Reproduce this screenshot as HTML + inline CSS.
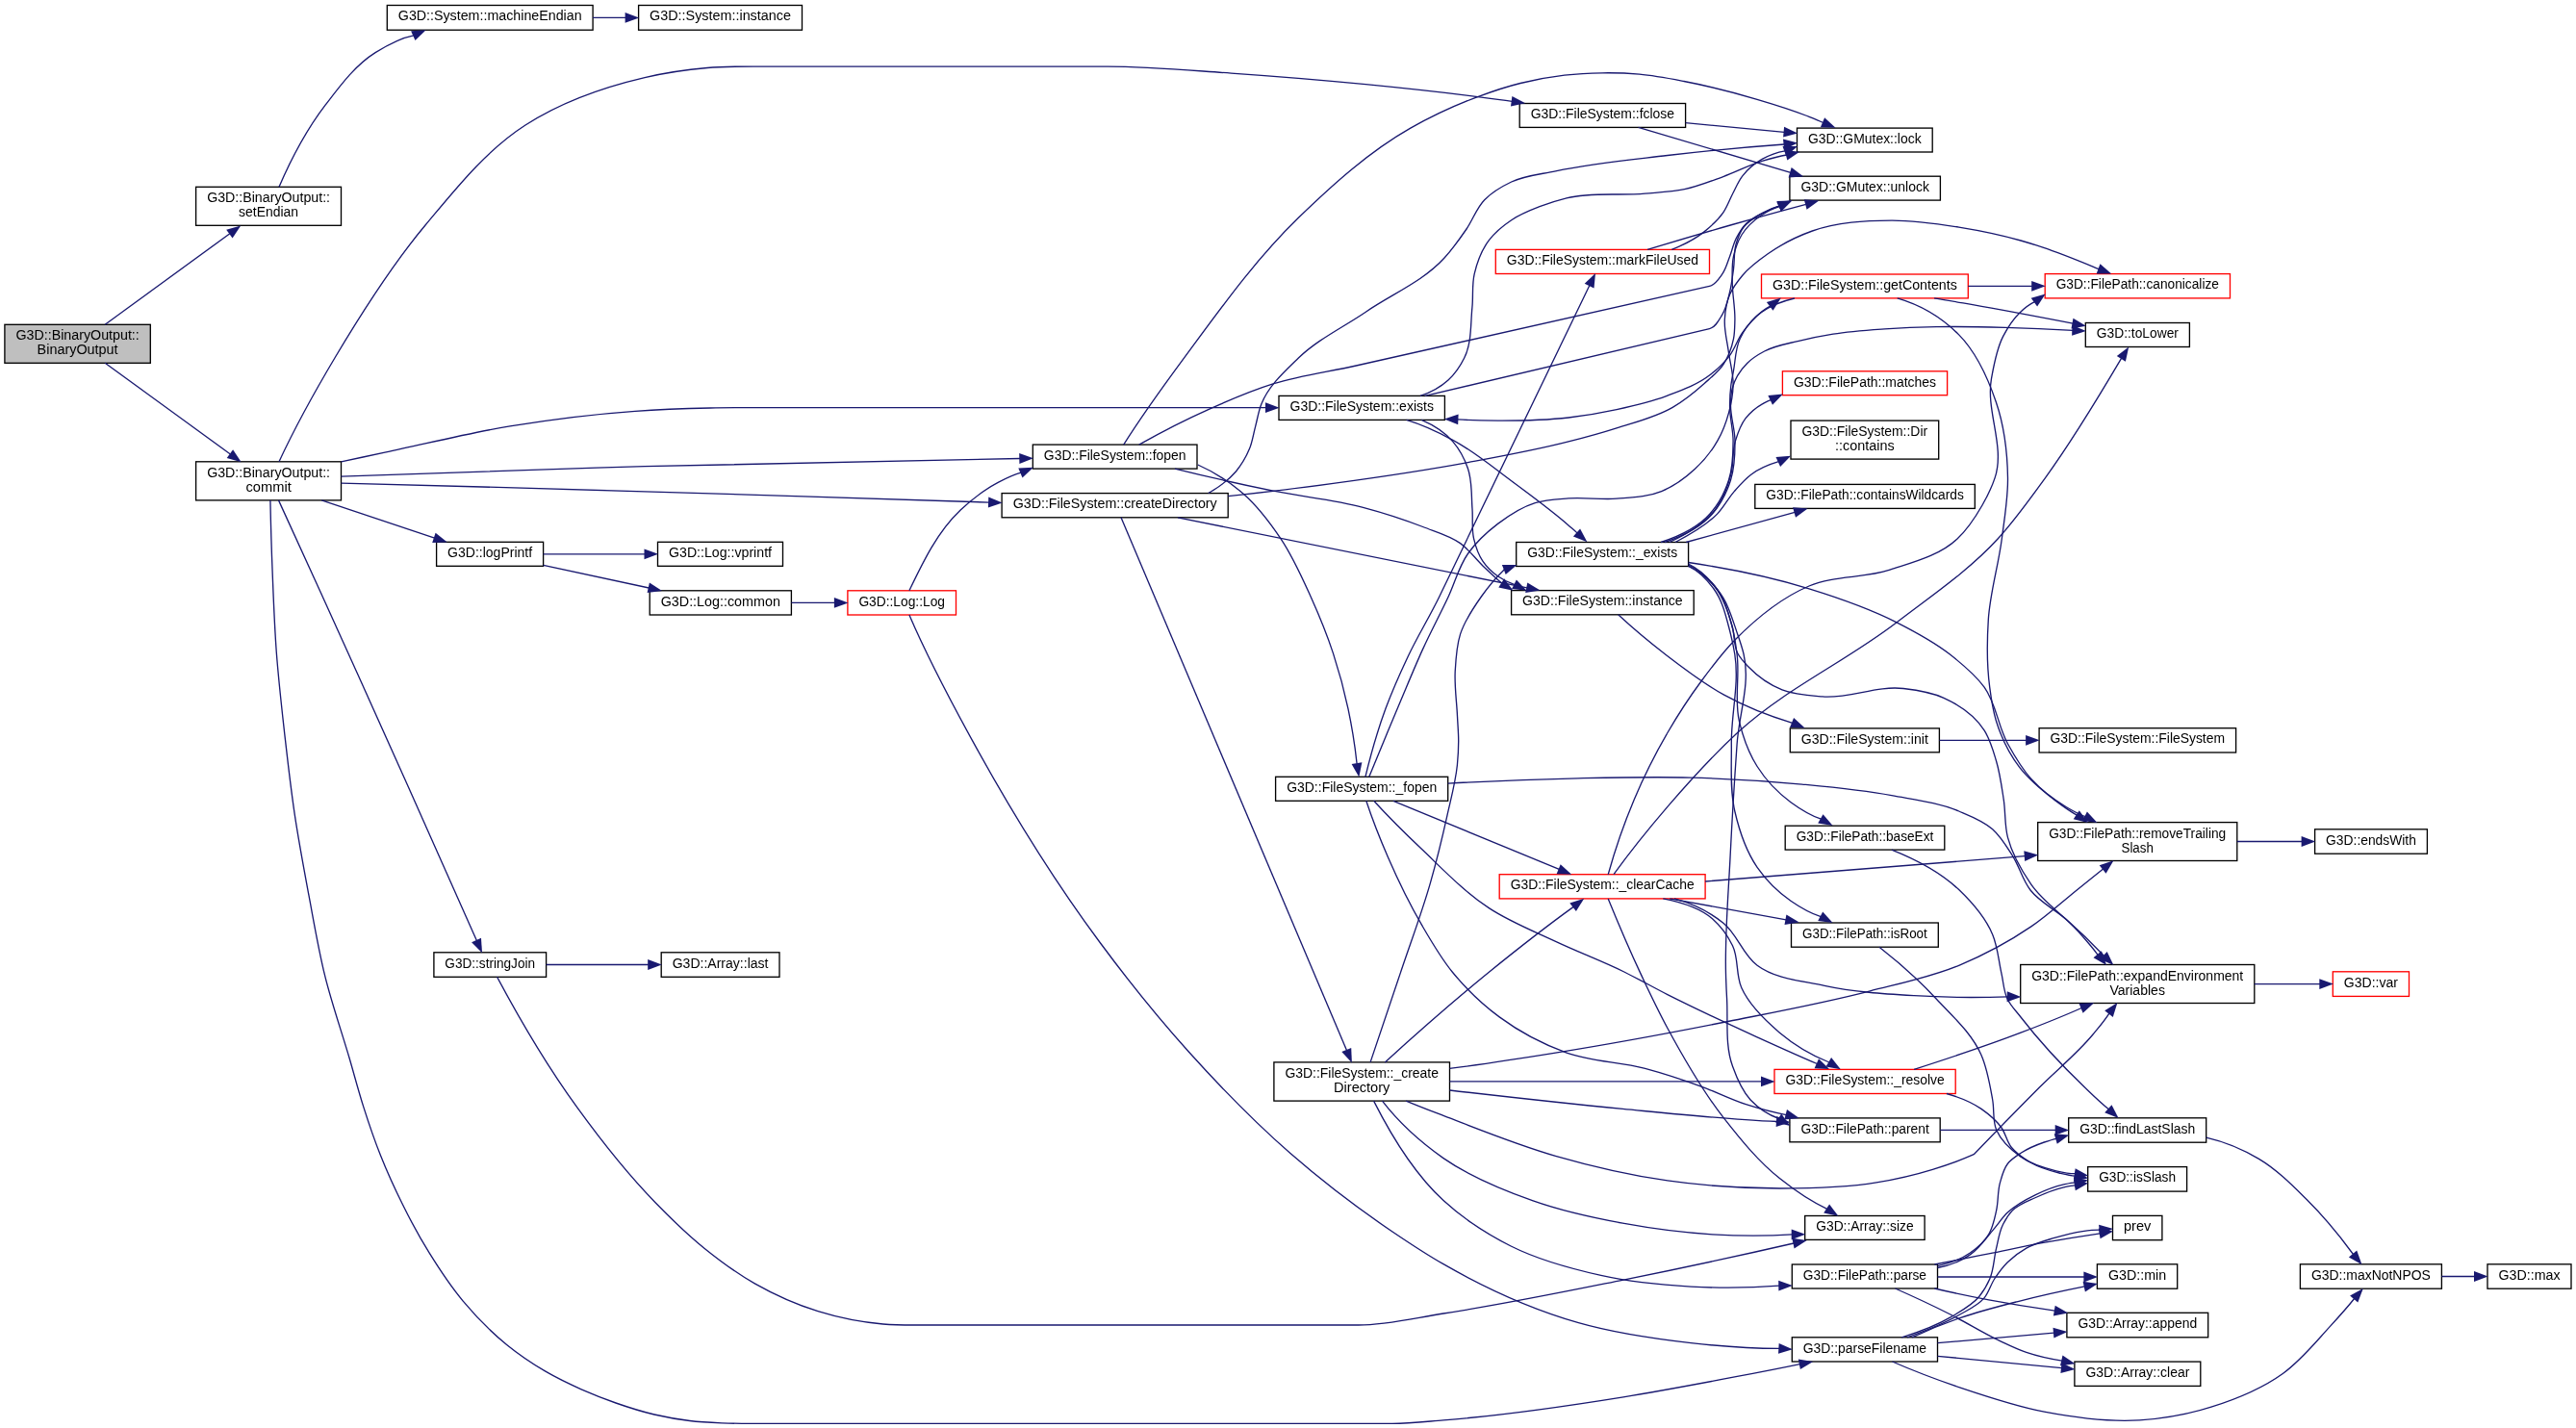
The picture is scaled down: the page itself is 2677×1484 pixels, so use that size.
<!DOCTYPE html>
<html><head><meta charset="utf-8"><title>G3D::BinaryOutput::BinaryOutput call graph</title>
<style>html,body{margin:0;padding:0;background:#fff}svg{display:block}text{font-family:"Liberation Sans",sans-serif;font-size:14px;text-anchor:middle;fill:#000}.e path{fill:none;stroke:#191970;stroke-width:1.333}.e polygon{fill:#191970;stroke:none}.n rect{stroke-width:1.333}</style></head><body>
<svg width="2677" height="1484" viewBox="0 0 2677 1484">
<rect x="0" y="0" width="2677" height="1484" fill="#fff"/>
<defs><filter id="gs" x="0" y="0" width="100%" height="100%" filterUnits="userSpaceOnUse" color-interpolation-filters="sRGB"><feColorMatrix type="matrix" values="1 0 0 0 0 0 1 0 0 0 0 0 1 0 0 0 0 0 1 0"/></filter></defs>
<g class="n" filter="url(#gs)">
<rect x="4.9" y="337.3" width="151.4" height="40.0" fill="#bfbfbf" stroke="black"/><text lengthAdjust="spacingAndGlyphs" x="80.6" y="353.4" textLength="128.4">G3D::BinaryOutput::</text><text lengthAdjust="spacingAndGlyphs" x="80.6" y="368.3" textLength="84.0">BinaryOutput</text>
<rect x="203.6" y="194.3" width="150.9" height="40.0" fill="white" stroke="black"/><text lengthAdjust="spacingAndGlyphs" x="279.1" y="210.4" textLength="127.9">G3D::BinaryOutput::</text><text lengthAdjust="spacingAndGlyphs" x="279.1" y="225.3" textLength="62.0">setEndian</text>
<rect x="203.6" y="479.8" width="150.9" height="40.1" fill="white" stroke="black"/><text lengthAdjust="spacingAndGlyphs" x="279.1" y="495.9" textLength="127.9">G3D::BinaryOutput::</text><text lengthAdjust="spacingAndGlyphs" x="279.1" y="510.8" textLength="47.3">commit</text>
<rect x="402.3" y="5.5" width="213.8" height="25.7" fill="white" stroke="black"/><text lengthAdjust="spacingAndGlyphs" x="509.2" y="21.2" textLength="190.8">G3D::System::machineEndian</text>
<rect x="663.6" y="5.5" width="169.9" height="25.7" fill="white" stroke="black"/><text lengthAdjust="spacingAndGlyphs" x="748.5" y="21.2" textLength="146.9">G3D::System::instance</text>
<rect x="453.6" y="563.3" width="111.0" height="25.0" fill="white" stroke="black"/><text lengthAdjust="spacingAndGlyphs" x="509.1" y="579.0" textLength="88.0">G3D::logPrintf</text>
<rect x="450.9" y="989.8" width="116.7" height="25.5" fill="white" stroke="black"/><text lengthAdjust="spacingAndGlyphs" x="509.2" y="1005.5" textLength="93.7">G3D::stringJoin</text>
<rect x="683.5" y="563.3" width="130.0" height="25.0" fill="white" stroke="black"/><text lengthAdjust="spacingAndGlyphs" x="748.5" y="579.0" textLength="107.0">G3D::Log::vprintf</text>
<rect x="675.2" y="613.8" width="147.2" height="25.2" fill="white" stroke="black"/><text lengthAdjust="spacingAndGlyphs" x="748.8" y="629.5" textLength="124.2">G3D::Log::common</text>
<rect x="687.2" y="989.8" width="122.8" height="25.5" fill="white" stroke="black"/><text lengthAdjust="spacingAndGlyphs" x="748.6" y="1005.5" textLength="99.8">G3D::Array::last</text>
<rect x="880.9" y="613.8" width="112.6" height="25.2" fill="white" stroke="red"/><text lengthAdjust="spacingAndGlyphs" x="937.2" y="629.5" textLength="89.6">G3D::Log::Log</text>
<rect x="1073.3" y="462.1" width="170.7" height="25.0" fill="white" stroke="black"/><text lengthAdjust="spacingAndGlyphs" x="1158.7" y="477.8" textLength="147.7">G3D::FileSystem::fopen</text>
<rect x="1041.1" y="512.6" width="235.1" height="25.2" fill="white" stroke="black"/><text lengthAdjust="spacingAndGlyphs" x="1158.7" y="528.3" textLength="212.1">G3D::FileSystem::createDirectory</text>
<rect x="1329.0" y="411.4" width="172.4" height="25.0" fill="white" stroke="black"/><text lengthAdjust="spacingAndGlyphs" x="1415.2" y="427.1" textLength="149.4">G3D::FileSystem::exists</text>
<rect x="1325.6" y="807.3" width="179.1" height="25.0" fill="white" stroke="black"/><text lengthAdjust="spacingAndGlyphs" x="1415.2" y="823.0" textLength="156.1">G3D::FileSystem::_fopen</text>
<rect x="1323.9" y="1103.9" width="182.6" height="40.2" fill="white" stroke="black"/><text lengthAdjust="spacingAndGlyphs" x="1415.2" y="1120.0" textLength="159.6">G3D::FileSystem::_create</text><text lengthAdjust="spacingAndGlyphs" x="1415.2" y="1134.9" textLength="58.4">Directory</text>
<rect x="1579.2" y="107.5" width="172.4" height="24.9" fill="white" stroke="black"/><text lengthAdjust="spacingAndGlyphs" x="1665.4" y="123.2" textLength="149.4">G3D::FileSystem::fclose</text>
<rect x="1554.3" y="259.4" width="222.2" height="25.1" fill="white" stroke="red"/><text lengthAdjust="spacingAndGlyphs" x="1665.4" y="275.1" textLength="199.2">G3D::FileSystem::markFileUsed</text>
<rect x="1575.7" y="563.5" width="178.9" height="25.0" fill="white" stroke="black"/><text lengthAdjust="spacingAndGlyphs" x="1665.2" y="579.2" textLength="155.9">G3D::FileSystem::_exists</text>
<rect x="1570.6" y="613.6" width="189.6" height="25.2" fill="white" stroke="black"/><text lengthAdjust="spacingAndGlyphs" x="1665.4" y="629.3" textLength="166.6">G3D::FileSystem::instance</text>
<rect x="1558.2" y="908.7" width="213.9" height="25.2" fill="white" stroke="red"/><text lengthAdjust="spacingAndGlyphs" x="1665.2" y="924.4" textLength="190.9">G3D::FileSystem::_clearCache</text>
<rect x="1867.5" y="133.1" width="140.7" height="24.9" fill="white" stroke="black"/><text lengthAdjust="spacingAndGlyphs" x="1937.8" y="148.8" textLength="117.7">G3D::GMutex::lock</text>
<rect x="1859.9" y="183.2" width="156.5" height="24.9" fill="white" stroke="black"/><text lengthAdjust="spacingAndGlyphs" x="1938.2" y="198.9" textLength="133.5">G3D::GMutex::unlock</text>
<rect x="1830.5" y="285.0" width="214.8" height="24.9" fill="white" stroke="red"/><text lengthAdjust="spacingAndGlyphs" x="1937.9" y="300.7" textLength="191.8">G3D::FileSystem::getContents</text>
<rect x="1852.4" y="385.8" width="171.2" height="24.9" fill="white" stroke="red"/><text lengthAdjust="spacingAndGlyphs" x="1938.0" y="401.5" textLength="148.2">G3D::FilePath::matches</text>
<rect x="1861.0" y="437.1" width="153.7" height="40.0" fill="white" stroke="black"/><text lengthAdjust="spacingAndGlyphs" x="1937.8" y="453.2" textLength="130.7">G3D::FileSystem::Dir</text><text lengthAdjust="spacingAndGlyphs" x="1937.8" y="468.1" textLength="61.7">::contains</text>
<rect x="1823.8" y="503.4" width="228.5" height="25.0" fill="white" stroke="black"/><text lengthAdjust="spacingAndGlyphs" x="1938.1" y="519.1" textLength="205.5">G3D::FilePath::containsWildcards</text>
<rect x="1860.3" y="756.9" width="155.1" height="24.9" fill="white" stroke="black"/><text lengthAdjust="spacingAndGlyphs" x="1937.8" y="772.6" textLength="132.1">G3D::FileSystem::init</text>
<rect x="1855.2" y="858.2" width="165.6" height="24.9" fill="white" stroke="black"/><text lengthAdjust="spacingAndGlyphs" x="1938.0" y="873.9" textLength="142.6">G3D::FilePath::baseExt</text>
<rect x="1861.5" y="959.0" width="152.8" height="25.2" fill="white" stroke="black"/><text lengthAdjust="spacingAndGlyphs" x="1937.9" y="974.7" textLength="129.8">G3D::FilePath::isRoot</text>
<rect x="1844.0" y="1111.4" width="188.2" height="25.1" fill="white" stroke="red"/><text lengthAdjust="spacingAndGlyphs" x="1938.1" y="1127.1" textLength="165.2">G3D::FileSystem::_resolve</text>
<rect x="1859.9" y="1161.9" width="156.3" height="24.9" fill="white" stroke="black"/><text lengthAdjust="spacingAndGlyphs" x="1938.1" y="1177.6" textLength="133.3">G3D::FilePath::parent</text>
<rect x="1875.7" y="1263.5" width="124.4" height="24.9" fill="white" stroke="black"/><text lengthAdjust="spacingAndGlyphs" x="1937.9" y="1279.2" textLength="101.4">G3D::Array::size</text>
<rect x="1862.3" y="1314.0" width="151.2" height="25.0" fill="white" stroke="black"/><text lengthAdjust="spacingAndGlyphs" x="1937.9" y="1329.7" textLength="128.2">G3D::FilePath::parse</text>
<rect x="1862.3" y="1389.8" width="151.2" height="25.2" fill="white" stroke="black"/><text lengthAdjust="spacingAndGlyphs" x="1937.9" y="1405.5" textLength="128.2">G3D::parseFilename</text>
<rect x="2125.2" y="284.6" width="192.3" height="25.3" fill="white" stroke="red"/><text lengthAdjust="spacingAndGlyphs" x="2221.3" y="300.3" textLength="169.3">G3D::FilePath::canonicalize</text>
<rect x="2167.3" y="335.5" width="108.1" height="25.0" fill="white" stroke="black"/><text lengthAdjust="spacingAndGlyphs" x="2221.4" y="351.2" textLength="85.1">G3D::toLower</text>
<rect x="2119.1" y="756.7" width="204.5" height="25.3" fill="white" stroke="black"/><text lengthAdjust="spacingAndGlyphs" x="2221.3" y="772.4" textLength="181.5">G3D::FileSystem::FileSystem</text>
<rect x="2117.7" y="854.6" width="207.1" height="39.9" fill="white" stroke="black"/><text lengthAdjust="spacingAndGlyphs" x="2221.2" y="870.7" textLength="184.1">G3D::FilePath::removeTrailing</text><text lengthAdjust="spacingAndGlyphs" x="2221.2" y="885.6" textLength="33.4">Slash</text>
<rect x="2099.7" y="1002.5" width="243.1" height="40.0" fill="white" stroke="black"/><text lengthAdjust="spacingAndGlyphs" x="2221.2" y="1018.6" textLength="220.1">G3D::FilePath::expandEnvironment</text><text lengthAdjust="spacingAndGlyphs" x="2221.2" y="1033.5" textLength="57.5">Variables</text>
<rect x="2149.7" y="1161.8" width="143.0" height="25.4" fill="white" stroke="black"/><text lengthAdjust="spacingAndGlyphs" x="2221.2" y="1177.5" textLength="120.0">G3D::findLastSlash</text>
<rect x="2169.7" y="1212.6" width="102.9" height="25.5" fill="white" stroke="black"/><text lengthAdjust="spacingAndGlyphs" x="2221.1" y="1228.3" textLength="79.9">G3D::isSlash</text>
<rect x="2195.5" y="1263.4" width="51.4" height="25.3" fill="white" stroke="black"/><text lengthAdjust="spacingAndGlyphs" x="2221.2" y="1279.1" textLength="28.4">prev</text>
<rect x="2179.4" y="1313.8" width="83.3" height="25.4" fill="white" stroke="black"/><text lengthAdjust="spacingAndGlyphs" x="2221.1" y="1329.5" textLength="60.3">G3D::min</text>
<rect x="2147.9" y="1364.3" width="146.8" height="25.5" fill="white" stroke="black"/><text lengthAdjust="spacingAndGlyphs" x="2221.3" y="1380.0" textLength="123.8">G3D::Array::append</text>
<rect x="2155.9" y="1415.1" width="130.9" height="25.3" fill="white" stroke="black"/><text lengthAdjust="spacingAndGlyphs" x="2221.4" y="1430.8" textLength="107.9">G3D::Array::clear</text>
<rect x="2405.6" y="861.8" width="116.8" height="25.4" fill="white" stroke="black"/><text lengthAdjust="spacingAndGlyphs" x="2464.0" y="877.5" textLength="93.8">G3D::endsWith</text>
<rect x="2424.3" y="1009.8" width="79.2" height="25.6" fill="white" stroke="red"/><text lengthAdjust="spacingAndGlyphs" x="2463.9" y="1025.5" textLength="56.2">G3D::var</text>
<rect x="2390.4" y="1313.8" width="147.0" height="25.4" fill="white" stroke="black"/><text lengthAdjust="spacingAndGlyphs" x="2463.9" y="1329.5" textLength="124.0">G3D::maxNotNPOS</text>
<rect x="2585.0" y="1313.8" width="87.0" height="25.4" fill="white" stroke="black"/><text lengthAdjust="spacingAndGlyphs" x="2628.5" y="1329.5" textLength="64.0">G3D::max</text>
</g>
<g class="e">
<path d="M109.2,337.3L238.9,242.7"/>
<polygon points="241.6,247.4 250.2,234.4 235.2,238.7"/>
<path d="M109.2,377.3L239.4,472.0"/>
<polygon points="235.7,476.0 250.7,480.2 242.1,467.2"/>
<path d="M290.0,194.3C302.9,164.4 318.3,135.1 338.1,109.2C353.4,89.2 368.8,68.0 390.1,54.6C402.4,46.9 415.6,39.5 429.9,36.8"/>
<polygon points="431.5,42.1 442.6,31.2 427.1,32.2"/>
<path d="M616.1,18.4L650.3,18.4"/>
<polygon points="649.6,23.8 664.2,18.4 649.6,13.0"/>
<path d="M290.0,479.8C307.3,442.4 327.4,406.4 348.5,371.0C376.8,323.5 406.5,276.4 442.0,234.0C473.5,196.4 504.8,156.5 546.0,130.0C583.4,105.9 626.7,90.7 670.0,80.6C691.4,75.6 713.2,72.4 735.0,70.5C756.6,68.6 778.3,69.1 800.0,69.1L1151.0,69.1C1193.9,69.1 1236.7,73.2 1279.5,76.1C1326.2,79.3 1372.8,83.1 1419.3,87.7C1458.2,91.5 1497.0,95.7 1535.7,100.6C1547.6,102.1 1559.5,103.6 1571.4,105.3"/>
<polygon points="1570.0,110.6 1585.2,107.2 1571.4,99.9"/>
<path d="M354.5,479.8C369.7,476.6 384.8,473.4 400.0,470.2C443.3,461.1 486.3,450.1 530.0,442.9C573.1,435.8 616.5,430.4 660.0,427.3C686.0,425.5 712.0,424.6 738.0,424.0C765.3,423.4 792.7,423.7 820.0,423.7L1315.7,423.7"/>
<polygon points="1315.0,429.1 1329.6,423.7 1315.0,418.3"/>
<path d="M354.5,495.2C459.6,491.0 564.8,487.6 670.0,484.7C800.0,481.1 930.0,478.5 1060.0,476.5"/>
<polygon points="1059.4,481.9 1073.9,476.2 1059.2,471.1"/>
<path d="M354.5,502.2C459.7,504.8 564.8,507.7 670.0,510.8C789.3,514.3 908.5,518.1 1027.8,522.1"/>
<polygon points="1026.9,527.5 1041.7,522.5 1027.3,516.6"/>
<path d="M334.2,519.9L451.6,559.1"/>
<polygon points="449.2,564.0 464.8,563.5 452.6,553.7"/>
<path d="M289.5,519.9C317.2,580.1 344.6,640.6 371.9,701.0C413.5,793.0 454.5,885.3 495.4,977.6"/>
<polygon points="490.1,979.2 501.0,990.3 500.0,974.8"/>
<path d="M280.9,519.9C281.4,544.6 282.1,569.3 283.1,594.0C284.2,622.0 285.2,650.0 287.3,678.0C289.4,706.1 292.6,734.1 295.7,762.1C298.9,790.1 302.0,818.2 306.2,846.1C310.4,874.2 315.7,902.2 320.9,930.2C326.2,958.3 330.9,986.5 337.7,1014.2C344.9,1043.2 354.8,1071.4 363.2,1100.0C368.1,1116.8 372.5,1133.7 377.8,1150.4C383.2,1167.4 388.9,1184.3 395.5,1200.8C402.3,1217.9 410.0,1234.8 418.2,1251.3C426.7,1268.5 435.8,1285.4 445.9,1301.7C456.7,1319.1 468.0,1336.4 481.2,1352.1C494.9,1368.5 510.0,1384.0 526.6,1397.5C539.3,1407.8 552.8,1417.0 566.9,1425.2C579.1,1432.3 591.8,1438.4 604.7,1444.1C616.3,1449.2 628.1,1453.8 640.0,1458.0C653.1,1462.6 666.4,1466.8 680.0,1470.0C692.1,1472.8 704.4,1475.0 716.8,1476.5C727.8,1477.8 738.9,1478.3 750.0,1478.8C760.0,1479.2 770.0,1479.4 780.0,1479.4L1447.0,1479.4C1464.7,1479.4 1482.4,1477.3 1500.0,1475.9C1562.6,1470.9 1624.9,1461.8 1687.0,1451.8C1726.1,1445.5 1765.1,1438.1 1804.0,1430.7C1826.2,1426.5 1848.4,1422.2 1870.5,1417.6"/>
<polygon points="1870.9,1423.0 1884.2,1414.9 1868.8,1412.4"/>
<path d="M564.6,575.8L670.2,575.8"/>
<polygon points="669.5,581.2 684.1,575.8 669.5,570.4"/>
<path d="M564.6,587.3L674.4,611.0"/>
<polygon points="672.6,616.1 688.0,613.9 674.9,605.5"/>
<path d="M822.4,626.4L867.6,626.4"/>
<polygon points="866.9,631.8 881.5,626.4 866.9,621.0"/>
<path d="M944.9,613.8C959.2,584.0 974.1,552.7 998.2,530.0C1010.0,519.0 1022.9,508.9 1037.2,501.4C1044.9,497.4 1052.7,493.4 1061.0,491.2"/>
<polygon points="1062.5,496.5 1073.9,485.8 1058.3,486.5"/>
<path d="M944.9,639.0C964.3,684.2 987.5,727.8 1011.2,770.9C1050.9,843.2 1094.3,913.8 1143.5,980.0C1172.4,1019.0 1202.8,1056.9 1235.3,1093.0C1268.7,1130.1 1303.6,1166.0 1341.2,1198.8C1374.7,1228.0 1410.2,1255.1 1447.0,1280.0C1464.3,1291.7 1481.8,1303.3 1500.0,1313.7C1544.3,1339.1 1591.4,1360.6 1640.4,1374.6C1678.5,1385.5 1718.0,1391.1 1757.3,1395.6C1787.7,1399.1 1818.4,1401.4 1849.0,1401.4"/>
<polygon points="1848.0,1406.7 1862.9,1402.2 1848.7,1395.9"/>
<path d="M567.6,1002.5L673.9,1002.5"/>
<polygon points="673.2,1007.9 687.8,1002.5 673.2,997.1"/>
<path d="M516.6,1015.3C541.6,1062.2 568.8,1108.2 600.0,1151.2C625.0,1185.7 651.5,1219.5 681.3,1250.0C697.4,1266.5 713.9,1282.7 731.9,1297.2C748.5,1310.6 765.8,1323.3 784.3,1333.9C805.1,1345.7 827.2,1355.6 850.0,1362.7C871.9,1369.5 894.7,1374.1 917.6,1376.0C928.4,1376.9 939.2,1377.0 950.0,1377.0L1411.8,1377.0C1441.5,1377.0 1470.7,1369.5 1500.0,1365.0C1562.7,1355.5 1624.9,1342.6 1687.1,1330.1C1746.3,1318.2 1805.3,1305.5 1864.1,1292.0"/>
<polygon points="1864.6,1297.4 1877.7,1289.1 1862.3,1286.8"/>
<path d="M1167.7,462.1C1187.2,431.1 1208.8,401.4 1230.6,371.9C1267.8,321.5 1304.4,269.8 1349.4,226.3C1385.1,191.8 1422.6,157.8 1465.8,133.2C1488.1,120.5 1511.6,109.6 1535.7,100.6C1550.2,95.2 1565.0,90.2 1580.0,86.5C1595.1,82.8 1610.4,80.0 1625.8,78.2C1638.8,76.7 1651.9,76.0 1665.0,75.8C1677.9,75.6 1690.8,76.0 1703.7,77.2C1719.3,78.6 1734.7,81.6 1750.0,84.5C1775.6,89.4 1801.0,95.9 1826.0,103.3C1843.0,108.3 1860.1,113.5 1876.6,120.0C1882.6,122.4 1888.7,124.7 1894.6,127.5"/>
<polygon points="1891.9,132.2 1907.5,132.8 1896.1,122.2"/>
<path d="M1183.7,462.1C1207.5,448.7 1231.9,436.2 1256.8,425.1C1278.7,415.3 1300.8,405.9 1323.7,398.7C1351.6,390.0 1380.8,386.4 1409.3,380.0L1776.5,297.4C1782.4,296.1 1786.2,289.8 1789.7,284.9C1793.6,279.4 1795.2,272.6 1797.6,266.4C1800.0,260.3 1801.2,253.7 1804.2,247.9C1807.1,242.2 1810.4,236.5 1815.0,232.0C1819.8,227.3 1826.0,224.1 1832.0,221.0C1837.5,218.1 1843.3,215.7 1849.2,213.9"/>
<polygon points="1850.6,219.2 1862.1,208.6 1846.5,209.1"/>
<path d="M1221.0,487.1C1254.9,495.5 1289.0,503.2 1323.3,510.2C1354.3,516.5 1386.0,519.2 1416.5,527.3C1437.6,532.9 1458.4,539.5 1478.7,547.5C1491.9,552.7 1506.1,556.3 1517.6,564.6C1526.5,571.0 1533.0,580.3 1540.9,587.9C1547.4,594.1 1554.0,600.3 1560.8,606.2"/>
<polygon points="1557.3,610.4 1572.5,613.8 1563.2,601.3"/>
<path d="M1244.8,483.0C1262.0,490.5 1278.1,501.0 1292.2,513.3C1307.4,526.6 1319.7,543.1 1331.0,559.9C1343.6,578.6 1352.8,599.5 1362.1,620.0C1370.8,639.3 1378.9,659.0 1385.5,679.1C1391.7,698.0 1396.9,717.2 1401.0,736.6C1405.0,755.5 1408.1,774.6 1410.1,793.8"/>
<polygon points="1404.6,794.0 1412.3,807.6 1415.4,792.3"/>
<path d="M1255.7,512.5C1266.3,506.5 1276.6,499.3 1284.4,490.0C1290.2,483.0 1294.9,475.0 1298.4,466.6C1301.5,459.2 1302.5,451.1 1304.6,443.3C1306.7,435.5 1307.8,427.5 1310.8,420.0C1318.3,400.9 1334.7,386.3 1349.4,372.0C1369.7,352.4 1396.0,340.1 1419.3,324.2C1446.5,305.6 1478.6,292.6 1500.8,268.3C1509.4,258.9 1516.8,248.5 1524.0,238.0C1530.7,228.2 1534.4,216.2 1542.7,207.7C1550.5,199.7 1560.6,193.8 1570.7,189.0C1584.9,182.3 1601.1,181.1 1616.5,177.8C1654.8,169.6 1694.0,166.1 1732.9,161.5C1773.2,156.7 1813.7,152.9 1854.2,150.0"/>
<polygon points="1854.1,155.4 1868.1,148.6 1853.0,144.6"/>
<path d="M1276.2,515.6C1312.7,511.9 1349.1,507.3 1385.5,502.4C1432.3,496.0 1479.0,489.2 1525.4,480.6C1560.4,474.1 1595.5,467.8 1630.0,458.9C1646.8,454.6 1663.5,450.1 1680.0,444.8C1699.7,438.5 1720.4,433.7 1738.2,423.3C1750.1,416.3 1760.9,407.6 1771.2,398.4C1778.2,392.2 1785.9,386.4 1791.0,378.6C1796.2,370.7 1799.6,361.5 1801.5,352.2C1802.8,345.7 1802.7,339.0 1802.9,332.4C1803.2,319.2 1800.2,306.0 1800.2,292.8C1800.2,284.0 1799.6,275.0 1801.5,266.4C1803.2,258.6 1805.8,250.8 1810.0,244.0C1815.0,236.0 1822.2,229.3 1830.0,224.0C1836.0,220.0 1842.5,216.5 1849.5,214.6"/>
<polygon points="1851.2,219.8 1862.0,208.5 1846.5,210.0"/>
<path d="M1224.0,537.8L1586.9,610.9"/>
<polygon points="1585.2,616.1 1600.6,613.6 1587.3,605.4"/>
<path d="M1165.0,537.8L1399.5,1091.6"/>
<polygon points="1394.3,1093.1 1404.9,1104.5 1404.2,1088.9"/>
<path d="M1476.0,411.4C1486.5,407.9 1496.8,402.5 1505.0,395.0C1512.0,388.6 1517.5,380.5 1521.7,372.0C1529.6,356.2 1528.1,337.1 1529.9,319.5C1531.1,307.9 1529.5,296.0 1532.2,284.6C1535.1,272.2 1539.7,259.8 1547.4,249.6C1553.7,241.3 1562.0,234.5 1570.7,228.7C1579.7,222.7 1589.9,218.6 1600.0,214.7C1609.1,211.1 1618.5,208.1 1628.0,205.8C1654.5,199.3 1682.5,203.6 1709.6,201.1C1723.3,199.9 1737.1,199.5 1750.5,196.7C1764.3,193.8 1777.5,188.4 1790.8,183.6C1804.4,178.7 1817.3,171.6 1831.2,167.4C1839.6,164.8 1848.0,162.4 1856.7,161.0"/>
<polygon points="1857.3,166.5 1870.2,157.7 1854.7,155.9"/>
<path d="M1481.0,411.4L1776.5,341.6C1782.9,340.1 1786.3,332.7 1789.7,327.1C1794.1,320.0 1795.6,311.5 1797.6,303.4C1799.5,295.6 1800.4,287.6 1801.5,279.6C1802.7,270.8 1801.7,261.7 1804.2,253.2C1806.0,247.2 1808.2,241.0 1812.0,236.0C1816.6,230.0 1823.5,226.2 1830.0,222.5C1836.1,219.0 1842.6,216.1 1849.3,214.1"/>
<polygon points="1850.8,219.4 1862.1,208.6 1846.5,209.4"/>
<path d="M1461.6,436.4C1478.4,441.4 1494.4,449.0 1509.8,457.3C1532.1,469.2 1551.6,485.8 1572.0,500.8C1591.7,515.3 1611.5,529.8 1630.0,545.9C1633.0,548.6 1636.2,551.1 1639.0,553.9"/>
<polygon points="1634.9,557.5 1649.4,563.2 1642.1,549.4"/>
<path d="M1477.2,436.4C1489.3,441.6 1501.2,448.9 1509.8,458.9C1516.8,467.0 1521.9,476.7 1525.4,486.8C1530.1,500.1 1528.9,514.8 1530.0,528.8C1530.8,539.2 1529.2,549.8 1531.6,559.9C1533.5,568.0 1536.2,576.3 1540.9,583.2C1545.0,589.3 1550.5,594.6 1556.5,598.8C1561.8,602.6 1567.8,605.6 1574.1,607.6"/>
<polygon points="1571.1,612.1 1586.5,613.8 1575.9,602.4"/>
<path d="M1418.9,807.3C1424.7,783.4 1431.4,759.7 1439.9,736.6C1446.7,718.1 1454.8,700.0 1463.2,682.2C1473.2,661.0 1485.6,641.1 1495.8,620.0L1651.9,296.5"/>
<polygon points="1656.5,299.5 1658.0,284.0 1646.7,294.8"/>
<path d="M1422.8,807.3C1433.5,781.1 1444.4,754.9 1455.4,728.8C1463.1,710.6 1470.5,692.3 1478.7,674.4C1487.1,656.1 1496.6,638.3 1505.2,620.0C1512.1,605.2 1516.0,588.8 1525.4,575.5C1533.9,563.5 1544.8,553.3 1556.5,544.4C1568.3,535.4 1581.1,527.0 1595.3,522.6C1606.4,519.1 1618.4,518.8 1630.0,517.9C1646.6,516.6 1663.4,519.5 1680.0,518.2C1695.7,516.9 1712.0,516.6 1726.6,510.6C1739.5,505.3 1751.3,496.8 1761.5,487.3C1770.6,478.8 1778.7,469.0 1784.8,458.2C1790.0,449.1 1793.8,439.2 1796.5,429.1C1799.1,419.6 1800.9,409.8 1801.1,400.0C1801.4,388.4 1797.8,376.9 1796.3,365.4C1794.9,354.4 1791.7,343.5 1792.3,332.4C1792.8,323.4 1794.1,314.2 1797.6,306.0C1800.7,298.7 1805.7,292.3 1810.8,286.2C1818.2,277.4 1827.8,270.4 1837.2,263.8C1851.4,253.8 1867.1,245.8 1883.4,240.0C1909.5,230.7 1938.1,229.3 1965.8,229.1C1989.2,229.0 2012.6,232.4 2035.7,236.1C2057.4,239.6 2078.9,244.0 2100.0,250.0C2107.7,252.2 2115.4,254.6 2123.0,257.1C2142.7,263.6 2161.9,271.7 2181.2,279.6"/>
<polygon points="2178.6,284.4 2194.2,284.6 2182.5,274.3"/>
<path d="M1504.7,814.1C1549.7,811.6 1594.7,809.8 1639.8,808.8C1678.6,808.0 1717.4,807.1 1756.2,808.1C1795.1,809.1 1834.0,811.4 1872.7,815.1C1903.8,818.1 1935.1,821.0 1965.8,826.7C1989.3,831.1 2013.6,833.7 2035.7,843.0C2047.9,848.1 2060.8,852.9 2070.7,861.7C2079.4,869.4 2085.4,879.8 2091.6,889.6C2098.7,900.8 2101.8,914.5 2110.0,925.0C2119.9,937.7 2135.3,944.9 2147.4,955.6C2160.9,967.6 2173.9,980.2 2186.4,993.2"/>
<polygon points="2182.2,996.7 2196.4,1002.9 2189.7,988.9"/>
<path d="M1447.9,832.3L1620.3,903.4"/>
<polygon points="1617.6,908.2 1633.2,908.7 1621.7,898.2"/>
<path d="M1427.7,832.3C1443.6,849.7 1460.5,866.4 1477.6,882.6C1500.1,904.0 1521.7,926.9 1547.7,943.9C1569.5,958.2 1594.1,967.8 1617.7,978.9C1640.8,989.8 1664.9,998.7 1687.8,1010.0C1703.0,1017.5 1717.8,1025.9 1732.9,1033.6C1763.6,1049.1 1794.8,1063.5 1826.1,1077.8C1846.8,1087.2 1867.5,1096.6 1888.4,1105.5"/>
<polygon points="1885.6,1110.2 1901.1,1111.1 1890.0,1100.3"/>
<path d="M1419.8,832.3C1426.4,852.3 1434.2,872.0 1442.6,891.3C1453.0,915.2 1464.4,938.8 1477.6,961.4C1487.3,978.1 1497.0,995.0 1509.2,1010.0C1523.5,1027.5 1540.0,1043.5 1558.2,1056.9C1579.4,1072.6 1603.3,1085.1 1628.1,1094.1C1654.2,1103.5 1682.8,1103.2 1709.6,1110.4C1729.3,1115.7 1748.7,1122.1 1767.9,1129.1C1783.6,1134.8 1798.5,1142.6 1814.4,1147.7C1828.1,1152.1 1842.1,1155.9 1856.3,1158.6"/>
<polygon points="1854.3,1163.6 1869.8,1162.1 1857.0,1153.1"/>
<path d="M1424.1,1103.9C1434.7,1072.6 1445.2,1041.3 1455.7,1010.0C1466.0,979.2 1477.5,948.8 1486.4,917.6C1493.0,894.5 1498.7,871.1 1503.9,847.6C1507.8,830.1 1512.6,812.8 1514.4,795.0C1515.2,786.7 1515.7,778.3 1515.7,770.0C1515.7,761.5 1514.9,752.9 1514.5,744.4C1513.8,728.8 1511.4,713.3 1512.2,697.7C1512.9,684.7 1513.6,671.3 1517.6,658.9C1522.2,644.8 1530.8,632.1 1539.4,620.0C1546.5,609.9 1554.5,600.3 1563.4,591.7"/>
<polygon points="1564.7,597.1 1576.5,586.9 1560.9,586.9"/>
<path d="M1439.3,1103.9C1474.7,1071.7 1510.6,1040.2 1547.7,1010.0C1576.3,986.8 1605.3,964.0 1635.2,942.4"/>
<polygon points="1637.9,947.1 1646.2,933.8 1631.3,938.5"/>
<path d="M1506.5,1110.4C1543.3,1105.7 1579.9,1100.0 1616.5,1094.1C1676.5,1084.5 1736.2,1073.4 1795.8,1061.5C1844.9,1051.7 1894.2,1042.6 1942.6,1030.1C1973.9,1022.0 2005.9,1015.7 2035.7,1003.3C2062.0,992.4 2087.3,978.9 2110.8,962.9C2128.0,951.2 2143.3,936.9 2159.5,923.9C2168.2,916.9 2176.9,910.0 2185.6,903.0"/>
<polygon points="2188.5,907.7 2196.5,894.3 2181.7,899.2"/>
<path d="M1506.5,1123.9L1830.7,1123.9"/>
<polygon points="1830.0,1129.3 1844.6,1123.9 1830.0,1118.5"/>
<path d="M1506.5,1133.0C1566.4,1139.9 1626.3,1146.6 1686.3,1152.4C1725.1,1156.1 1763.9,1160.1 1802.8,1162.8C1817.4,1163.8 1832.0,1164.9 1846.6,1165.5"/>
<polygon points="1845.6,1170.9 1860.5,1166.3 1846.3,1160.0"/>
<path d="M1461.2,1144.1C1474.0,1149.5 1487.0,1154.4 1500.0,1159.4C1538.5,1174.2 1576.8,1189.9 1616.5,1201.3C1654.7,1212.3 1693.6,1221.3 1732.9,1226.9C1771.4,1232.4 1810.5,1235.0 1849.4,1235.0C1883.0,1235.0 1916.9,1234.5 1950.0,1228.9C1969.7,1225.6 1989.3,1221.2 2008.4,1215.3C2022.9,1210.9 2037.3,1205.9 2051.2,1199.7M2051.2,1199.7C2073.8,1176.3 2096.5,1153.0 2119.4,1130.0C2137.8,1111.5 2158.4,1095.1 2175.0,1075.0C2180.9,1067.9 2187.0,1060.9 2191.9,1053.1"/>
<polygon points="2195.8,1056.9 2200.4,1042.0 2187.2,1050.3"/>
<path d="M1436.5,1144.1C1454.2,1167.1 1476.3,1186.9 1500.0,1203.6C1528.2,1223.3 1560.8,1236.4 1593.2,1247.9C1623.3,1258.6 1654.8,1265.4 1686.3,1271.2C1717.1,1276.9 1748.2,1281.0 1779.5,1282.8C1807.1,1284.4 1834.8,1284.6 1862.4,1282.8"/>
<polygon points="1861.7,1288.2 1876.3,1282.8 1861.7,1277.4"/>
<path d="M1427.6,1144.1C1446.6,1181.7 1469.0,1219.1 1500.0,1247.5C1520.8,1266.6 1544.9,1282.3 1570.2,1295.0C1599.5,1309.7 1631.7,1318.3 1663.7,1325.4C1694.4,1332.2 1725.9,1335.3 1757.3,1337.1C1787.8,1338.8 1818.5,1338.5 1849.0,1336.1"/>
<polygon points="1848.4,1341.6 1862.9,1336.0 1848.2,1330.7"/>
<path d="M1671.2,908.7C1678.5,882.4 1687.4,856.5 1698.0,831.4C1708.1,807.4 1719.8,784.0 1732.9,761.5C1743.6,743.1 1755.2,725.1 1767.9,708.0C1778.9,693.1 1790.0,678.2 1803.0,665.0C1825.3,642.4 1850.8,621.4 1880.0,609.0C1906.3,597.8 1936.9,601.2 1964.0,592.2C1988.4,584.1 2015.2,577.6 2034.0,560.0C2044.6,550.1 2052.8,537.6 2060.0,525.0C2065.2,515.9 2069.8,506.5 2073.1,496.6C2084.1,464.0 2063.4,427.3 2069.5,393.4C2072.2,378.5 2074.7,363.1 2081.6,349.6C2086.2,340.8 2091.5,332.1 2098.7,325.2C2103.4,320.7 2108.6,316.5 2114.4,313.7"/>
<polygon points="2117.1,318.4 2125.7,305.4 2110.7,309.7"/>
<path d="M1677.0,908.7C1694.5,884.4 1713.4,861.1 1732.9,838.4C1756.4,811.1 1780.6,784.3 1807.2,760.0C1856.3,715.3 1918.5,687.3 1971.1,646.8C2007.1,619.1 2045.4,593.5 2076.1,560.0C2094.2,540.3 2109.7,518.3 2125.5,496.6C2154.4,456.8 2179.7,414.6 2204.7,372.2"/>
<polygon points="2208.9,375.7 2212.2,360.5 2199.8,369.9"/>
<path d="M1772.1,916.0L2104.4,889.7"/>
<polygon points="2104.2,895.1 2118.3,888.6 2103.3,884.3"/>
<path d="M1735.3,933.9L1856.1,955.9"/>
<polygon points="1854.5,961.1 1869.8,958.4 1856.4,950.5"/>
<path d="M1728.3,933.9C1746.4,937.4 1765.6,942.7 1779.5,954.8C1788.3,962.5 1795.4,972.3 1800.5,982.8C1807.0,996.2 1803.7,1013.0 1809.8,1026.6C1818.1,1045.2 1833.8,1060.0 1849.4,1073.2C1864.7,1086.1 1882.3,1096.6 1900.9,1104.0"/>
<polygon points="1897.5,1108.4 1912.8,1111.2 1903.1,1099.1"/>
<path d="M1740.0,933.9C1758.4,938.8 1776.4,947.5 1791.2,959.5C1805.7,971.3 1811.1,992.2 1826.1,1003.3C1845.7,1017.8 1872.2,1019.2 1896.0,1024.3C1926.5,1030.9 1957.9,1032.8 1989.1,1034.7C2021.5,1036.7 2054.0,1037.0 2086.4,1035.8"/>
<polygon points="2085.6,1041.2 2100.3,1035.9 2085.8,1030.3"/>
<path d="M1671.2,933.9C1681.9,960.1 1693.0,986.2 1705.0,1011.9C1713.9,1031.0 1722.9,1050.0 1732.9,1068.5C1750.3,1100.7 1768.6,1132.9 1791.2,1161.7C1808.8,1184.2 1827.1,1206.8 1849.4,1224.6C1864.7,1236.8 1880.9,1248.2 1898.7,1256.3"/>
<polygon points="1895.2,1260.5 1910.4,1263.8 1901.1,1251.4"/>
<path d="M1726.0,563.5C1744.7,557.4 1764.0,548.7 1777.0,534.0C1785.9,524.0 1792.4,511.7 1796.5,499.0C1800.7,486.0 1801.1,471.9 1801.1,458.2C1801.1,446.5 1797.7,435.0 1797.6,423.3C1797.5,415.5 1797.9,407.7 1798.9,400.0C1799.5,395.0 1800.6,390.1 1801.5,385.2C1803.5,374.2 1803.4,362.4 1808.1,352.2C1811.9,343.9 1817.4,336.2 1824.0,329.8C1828.7,325.2 1833.9,321.0 1839.7,318.0"/>
<polygon points="1842.5,322.7 1850.9,309.6 1835.9,314.1"/>
<path d="M1730.0,563.5C1748.2,557.3 1766.9,548.5 1779.5,534.0C1788.2,524.0 1794.5,511.7 1798.5,499.0C1802.6,486.0 1803.1,471.9 1803.0,458.2C1802.9,445.4 1798.1,432.8 1798.5,420.0C1798.7,414.7 1798.7,409.4 1800.0,404.3C1802.5,394.2 1808.4,384.8 1815.7,377.5C1820.8,372.3 1827.2,368.4 1833.6,365.0C1844.5,359.1 1857.2,357.3 1869.3,354.3C1881.1,351.4 1893.0,349.0 1905.0,347.1C1922.7,344.3 1940.7,343.1 1958.6,341.8C1976.4,340.6 1994.3,339.9 2012.1,339.6C2035.9,339.2 2059.8,339.8 2083.6,340.4C2107.1,341.0 2130.5,342.0 2154.0,343.4"/>
<polygon points="2153.1,348.8 2167.9,344.0 2153.5,338.0"/>
<path d="M1735.0,563.5C1753.1,555.1 1771.9,544.4 1783.5,528.1C1790.8,517.7 1795.5,505.5 1798.8,493.2C1801.9,481.8 1799.9,469.4 1803.4,458.2C1805.9,450.1 1808.7,441.7 1813.9,434.9C1818.6,428.8 1824.7,423.6 1831.4,419.8C1834.3,418.2 1837.2,416.4 1840.3,415.6"/>
<polygon points="1842.0,420.8 1852.9,409.6 1837.4,411.0"/>
<path d="M1741.0,563.5C1756.6,555.4 1772.6,546.6 1784.8,533.9C1791.5,526.9 1795.9,517.9 1802.3,510.6C1807.7,504.4 1813.1,498.1 1819.7,493.2C1828.2,486.9 1838.3,482.7 1848.4,479.7"/>
<polygon points="1850.1,484.9 1861.0,473.7 1845.5,475.1"/>
<path d="M1752.2,563.5L1865.2,532.3"/>
<polygon points="1866.0,537.7 1878.6,528.5 1863.1,527.2"/>
<path d="M1754.6,584.5C1796.9,590.8 1839.1,599.1 1880.0,611.8C1911.1,621.4 1942.1,632.0 1971.1,646.8C1990.3,656.6 2009.5,666.7 2026.4,680.0C2039.3,690.2 2052.4,700.8 2062.1,714.1C2074.6,731.3 2076.2,754.4 2086.5,773.0C2093.6,785.8 2101.0,798.7 2110.8,809.5C2121.3,821.1 2134.0,830.8 2147.4,838.7C2153.7,842.4 2160.1,846.2 2167.1,848.6"/>
<polygon points="2164.1,853.1 2179.5,854.9 2168.9,843.5"/>
<path d="M1754.6,586.0C1765.3,591.2 1774.6,599.7 1782.0,609.0C1791.5,621.0 1796.0,636.3 1800.2,651.0C1802.8,660.2 1801.3,670.6 1805.8,679.0C1808.6,684.3 1812.9,688.7 1817.0,693.0C1826.8,703.2 1838.9,711.6 1852.0,716.9C1865.2,722.2 1879.8,722.8 1894.0,723.9C1922.1,726.1 1950.1,712.2 1978.0,715.5C1992.3,717.2 2006.9,719.3 2020.0,725.3C2036.3,732.7 2052.3,743.8 2062.0,758.9C2068.1,768.3 2071.1,779.3 2074.3,790.0C2078.4,803.5 2080.2,817.5 2082.3,831.4C2084.2,844.3 2083.2,857.8 2086.5,870.4C2091.1,888.0 2100.5,904.2 2110.8,919.1C2123.9,938.0 2144.3,950.6 2159.5,967.7C2166.6,975.7 2173.8,983.7 2180.1,992.3"/>
<polygon points="2175.5,995.3 2189.1,1003.0 2183.9,988.3"/>
<path d="M1754.6,587.0C1765.8,592.4 1775.4,601.2 1783.0,611.0C1792.7,623.5 1797.2,639.6 1801.0,655.0C1803.0,663.2 1804.0,671.6 1805.1,680.0C1808.1,703.1 1802.1,727.2 1807.5,749.9C1811.4,766.2 1817.1,782.4 1826.1,796.5C1835.2,810.9 1847.3,823.6 1861.0,833.7C1870.7,840.8 1881.1,847.3 1892.5,851.2"/>
<polygon points="1889.2,855.6 1904.6,858.0 1894.5,846.2"/>
<path d="M1754.6,588.0C1765.1,593.5 1774.0,602.4 1781.0,612.0C1790.5,624.9 1793.9,641.5 1798.0,657.0C1800.0,664.6 1801.6,672.3 1802.8,680.0C1807.7,710.7 1798.9,742.1 1799.3,773.2C1799.6,796.5 1797.6,820.3 1802.8,843.0C1807.5,863.4 1814.2,884.1 1826.1,901.3C1835.5,914.8 1847.5,926.8 1861.0,936.2C1870.7,942.9 1881.1,949.0 1892.3,952.6"/>
<polygon points="1889.2,957.1 1904.6,959.1 1894.2,947.5"/>
<path d="M1754.6,588.5C1766.4,593.9 1776.7,603.0 1785.0,613.0C1795.9,626.2 1800.4,643.8 1806.0,660.0C1808.3,666.6 1810.5,673.2 1812.1,680.0C1819.2,710.3 1807.2,742.1 1805.1,773.2C1802.4,812.0 1800.0,850.8 1798.1,889.6C1796.1,930.3 1792.4,971.1 1793.5,1011.9C1793.7,1020.7 1794.1,1029.4 1794.6,1038.2C1795.8,1061.5 1792.6,1086.1 1800.5,1108.1C1804.9,1120.5 1810.1,1133.4 1819.1,1143.0C1827.2,1151.6 1837.6,1158.6 1848.8,1162.5"/>
<polygon points="1845.2,1166.6 1860.4,1170.1 1851.2,1157.6"/>
<path d="M2045.3,297.3L2111.9,297.3"/>
<polygon points="2111.2,302.7 2125.8,297.3 2111.2,291.9"/>
<path d="M2010.1,309.9C2023.4,312.0 2036.7,314.4 2050.0,316.7C2084.8,322.8 2119.5,329.5 2154.2,336.2"/>
<polygon points="2152.5,341.4 2167.9,338.7 2154.5,330.7"/>
<path d="M1971.7,309.9C1995.5,316.8 2018.3,330.3 2035.7,347.9C2054.4,366.8 2065.7,392.5 2074.3,417.7C2082.9,442.9 2086.1,470.0 2086.5,496.6C2086.8,517.8 2083.0,538.9 2080.3,560.0C2076.7,588.2 2068.1,615.7 2066.3,644.0C2064.8,667.3 2064.6,690.9 2067.7,714.1C2069.2,725.7 2070.9,737.5 2074.3,748.7C2079.6,766.1 2087.7,783.0 2098.7,797.4C2108.8,810.6 2122.0,821.3 2135.2,831.4C2142.6,837.0 2150.1,842.6 2158.3,847.1"/>
<polygon points="2154.7,851.2 2169.8,854.9 2160.8,842.2"/>
<path d="M1864.9,310.0C1852.8,312.8 1840.6,317.1 1830.6,324.5C1822.8,330.2 1816.5,337.8 1810.8,345.6C1805.5,352.9 1803.0,362.1 1797.6,369.3C1792.0,376.8 1785.1,383.3 1777.8,389.1C1764.4,399.7 1747.6,405.6 1731.6,411.6C1714.9,417.9 1697.4,421.8 1680.0,425.6C1663.5,429.2 1646.8,432.0 1630.0,434.0C1605.6,436.8 1581.0,437.2 1556.5,437.1C1542.6,437.1 1528.6,436.9 1514.7,435.9"/>
<polygon points="1515.6,430.5 1500.8,435.5 1515.2,441.3"/>
<path d="M1751.6,127.7L1854.2,137.3"/>
<polygon points="1853.1,142.6 1868.1,138.6 1854.1,131.8"/>
<path d="M1702.6,132.4L1860.8,179.4"/>
<polygon points="1858.6,184.4 1874.2,183.4 1861.7,174.0"/>
<path d="M1737.3,259.4C1749.1,254.7 1760.7,248.9 1770.7,241.1C1778.2,235.2 1785.4,228.7 1790.8,220.9C1795.1,214.7 1797.4,207.4 1800.9,200.7C1804.1,194.6 1806.7,188.0 1811.0,182.6C1816.5,175.6 1823.5,169.8 1831.2,165.4C1838.5,161.2 1846.7,158.2 1855.0,156.8"/>
<polygon points="1856.2,162.2 1868.1,152.1 1852.5,152.0"/>
<path d="M1712.1,259.4C1741.3,250.5 1770.6,241.9 1800.0,233.5C1825.6,226.2 1851.2,219.1 1876.8,212.3"/>
<polygon points="1877.6,217.7 1890.3,208.6 1874.8,207.3"/>
<path d="M1681.7,638.8C1697.3,653.3 1713.7,667.0 1730.6,680.0C1750.1,695.0 1769.7,710.1 1791.2,721.9C1813.8,734.3 1838.0,744.0 1862.7,751.3"/>
<polygon points="1860.0,756.1 1875.6,756.6 1864.1,746.1"/>
<path d="M2015.4,769.3L2105.8,769.3"/>
<polygon points="2105.1,774.7 2119.7,769.3 2105.1,763.9"/>
<path d="M1965.8,883.1C1991.0,893.1 2016.1,905.9 2035.7,924.6C2049.7,938.0 2063.1,953.3 2070.7,971.2C2076.1,984.0 2076.9,998.3 2080.0,1011.9C2082.0,1020.6 2082.2,1029.9 2086.0,1038.0C2089.4,1045.1 2095.2,1050.8 2100.0,1057.0C2120.1,1083.1 2142.7,1107.2 2166.5,1130.0C2174.6,1137.8 2182.6,1145.7 2191.4,1152.7"/>
<polygon points="2187.2,1156.3 2201.6,1162.1 2194.5,1148.3"/>
<path d="M1953.0,984.2C1974.1,1000.6 1994.1,1018.6 2012.4,1038.2C2029.4,1056.4 2049.0,1073.7 2059.0,1096.5C2065.4,1111.1 2067.9,1127.3 2070.7,1143.0C2072.6,1153.5 2070.6,1164.9 2074.8,1174.6C2079.7,1185.9 2089.6,1194.8 2099.6,1201.9C2110.5,1209.6 2123.8,1213.8 2136.8,1216.8C2143.3,1218.3 2149.9,1219.8 2156.5,1219.7"/>
<polygon points="2155.1,1225.0 2170.3,1221.8 2156.7,1214.3"/>
<path d="M1989.1,1111.4C2026.3,1099.4 2063.5,1087.2 2100.0,1073.2C2121.2,1065.1 2142.4,1056.8 2163.2,1047.5"/>
<polygon points="2164.6,1052.8 2176.1,1042.3 2160.5,1042.8"/>
<path d="M2022.9,1136.5C2035.6,1140.1 2048.2,1144.9 2059.0,1152.4C2066.9,1157.9 2074.4,1164.2 2080.0,1172.0C2084.3,1178.1 2085.4,1186.1 2090.0,1192.0C2095.3,1198.7 2102.6,1203.7 2110.0,1208.0C2119.2,1213.4 2129.7,1216.5 2140.0,1219.0C2145.5,1220.3 2151.0,1221.7 2156.6,1222.1"/>
<polygon points="2154.9,1227.3 2170.3,1224.6 2156.9,1216.6"/>
<path d="M2016.2,1174.4L2136.4,1174.4"/>
<polygon points="2135.7,1179.8 2150.3,1174.4 2135.7,1169.0"/>
<path d="M2013.5,1315.6C2025.4,1313.0 2037.4,1309.0 2047.4,1302.0C2054.9,1296.7 2062.1,1290.4 2066.8,1282.5C2071.2,1275.2 2072.7,1266.4 2074.6,1258.1C2076.8,1248.5 2075.8,1238.3 2078.5,1228.9C2080.4,1222.2 2082.1,1215.0 2086.3,1209.5C2090.1,1204.5 2095.7,1201.2 2100.9,1197.8C2108.1,1193.1 2116.3,1189.8 2124.4,1187.0C2128.5,1185.6 2132.6,1184.2 2136.9,1183.3"/>
<polygon points="2137.8,1188.7 2150.3,1179.4 2134.7,1178.3"/>
<path d="M2013.5,1317.5C2025.5,1315.4 2037.4,1310.8 2047.4,1303.9C2057.2,1297.1 2063.9,1286.6 2071.7,1277.6C2076.7,1271.9 2080.8,1265.3 2086.3,1260.1C2094.7,1252.2 2105.1,1246.6 2115.5,1241.6C2124.8,1237.1 2134.6,1233.2 2144.7,1230.9C2148.6,1230.0 2152.6,1229.0 2156.6,1228.8"/>
<polygon points="2156.9,1234.3 2170.3,1226.4 2155.0,1223.6"/>
<path d="M2010.4,1314.0C2029.2,1310.3 2048.0,1306.6 2066.8,1302.9C2086.3,1299.0 2105.7,1294.8 2125.2,1291.2C2144.2,1287.7 2163.2,1284.6 2182.3,1281.8"/>
<polygon points="2182.6,1287.2 2196.1,1279.5 2180.8,1276.5"/>
<path d="M2013.5,1327.0L2166.1,1327.0"/>
<polygon points="2165.4,1332.4 2180.0,1327.0 2165.4,1321.6"/>
<path d="M2010.4,1339.0C2029.1,1343.4 2047.9,1347.3 2066.8,1350.9C2089.6,1355.2 2112.5,1358.9 2135.4,1362.1"/>
<polygon points="2133.9,1367.4 2149.2,1364.4 2135.7,1356.7"/>
<path d="M1969.5,1339.0C1989.2,1347.7 2008.7,1356.8 2027.9,1366.5C2044.3,1374.8 2059.9,1384.8 2076.6,1392.7C2086.2,1397.2 2095.8,1402.0 2105.8,1405.4C2117.8,1409.5 2130.4,1412.2 2142.9,1414.1"/>
<polygon points="2141.0,1419.2 2156.5,1417.2 2143.5,1408.6"/>
<path d="M1976.3,1389.8C1994.1,1384.3 2011.9,1377.9 2027.9,1368.4C2038.3,1362.2 2049.5,1356.4 2057.1,1347.0C2061.5,1341.6 2065.0,1335.4 2067.8,1329.0C2072.1,1319.0 2072.0,1307.6 2074.6,1297.1C2076.6,1288.9 2077.6,1280.3 2081.4,1272.7C2084.0,1267.4 2087.1,1262.3 2091.2,1258.1C2097.7,1251.4 2107.1,1248.4 2115.5,1244.5C2124.9,1240.1 2134.6,1236.1 2144.7,1233.8C2148.6,1232.9 2152.6,1231.9 2156.6,1231.8"/>
<polygon points="2156.8,1237.2 2170.3,1229.4 2155.0,1226.5"/>
<path d="M1982.0,1389.8C2000.1,1383.4 2018.4,1376.6 2035.0,1367.0C2044.4,1361.6 2055.1,1357.2 2062.0,1348.9C2066.8,1343.1 2068.6,1335.3 2072.7,1329.0C2076.7,1322.9 2081.1,1316.9 2086.3,1311.7C2092.1,1306.0 2098.7,1301.1 2105.8,1297.1C2114.8,1292.0 2125.1,1289.4 2135.0,1286.4C2144.6,1283.6 2154.3,1281.0 2164.2,1279.6C2170.2,1278.8 2176.2,1278.1 2182.2,1278.2"/>
<polygon points="2182.0,1283.6 2196.1,1277.1 2181.1,1272.8"/>
<path d="M1987.0,1389.8C2003.5,1382.1 2020.4,1375.3 2037.6,1369.4C2056.7,1362.8 2076.4,1357.8 2096.0,1352.8C2119.3,1346.8 2142.8,1341.6 2166.4,1336.9"/>
<polygon points="2166.9,1342.4 2180.0,1333.9 2164.6,1331.8"/>
<path d="M2013.5,1395.7L2134.6,1385.2"/>
<polygon points="2134.4,1390.6 2148.5,1383.9 2133.5,1379.8"/>
<path d="M2013.5,1409.3L2142.6,1421.6"/>
<polygon points="2141.4,1427.0 2156.5,1423.0 2142.5,1416.2"/>
<path d="M1966.5,1415.0C1989.9,1425.2 2013.8,1434.2 2038.0,1442.4C2066.4,1452.0 2095.0,1461.6 2124.4,1467.2C2157.0,1473.4 2190.4,1478.1 2223.5,1475.9C2248.7,1474.2 2273.8,1469.7 2297.9,1462.2C2324.0,1454.0 2350.1,1443.5 2372.3,1427.5C2391.3,1413.8 2406.1,1395.1 2421.9,1377.9C2430.4,1368.6 2438.8,1359.4 2446.6,1349.5"/>
<polygon points="2450.3,1353.6 2455.8,1339.0 2442.1,1346.5"/>
<path d="M2292.7,1182.1C2311.9,1186.5 2330.6,1194.3 2347.5,1204.4C2366.1,1215.5 2381.7,1231.3 2397.1,1246.5C2414.8,1264.0 2430.8,1283.4 2445.5,1303.5"/>
<polygon points="2440.9,1306.5 2454.5,1314.2 2449.2,1299.5"/>
<path d="M2537.4,1326.5L2571.7,1326.5"/>
<polygon points="2571.0,1331.9 2585.6,1326.5 2571.0,1321.1"/>
<path d="M2324.8,874.5L2392.3,874.5"/>
<polygon points="2391.6,879.9 2406.2,874.5 2391.6,869.1"/>
<path d="M2342.8,1022.6L2411.0,1022.6"/>
<polygon points="2410.3,1028.0 2424.9,1022.6 2410.3,1017.2"/>
</g>
</svg></body></html>
